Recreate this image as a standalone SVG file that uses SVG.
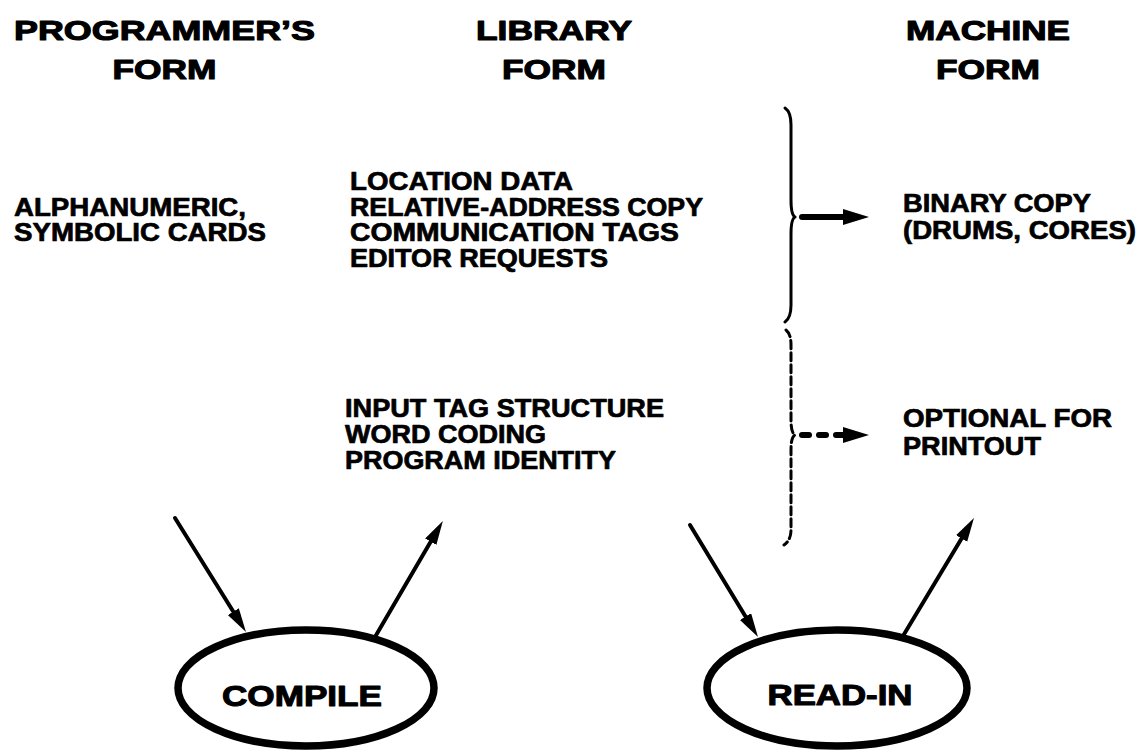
<svg xmlns="http://www.w3.org/2000/svg" width="1143" height="752" viewBox="0 0 1143 752">
  <style>
    text { font-family: "Liberation Sans", Arial, Helvetica, sans-serif; font-weight: bold; fill: #000; stroke: #000; stroke-linejoin: round; }
    .head { font-size: 28px; text-anchor: middle; stroke-width: 1.1; }
    .body { font-size: 25px; stroke-width: 0.7; }
    .oval-label { font-size: 30px; text-anchor: middle; stroke-width: 1.1; }
    .oval { fill: #fff; stroke: #000; stroke-width: 7.5; }
    .link { fill: none; stroke: #000; stroke-width: 4; stroke-linecap: round; }
    .brace { fill: none; stroke: #000; stroke-width: 3; stroke-linecap: round; stroke-linejoin: round; }
    .brace-dashed { stroke-dasharray: 8 4; }
    .shaft { stroke: #000; stroke-width: 6; stroke-linecap: round; }
  </style>
  <defs>
    <marker id="head" markerUnits="userSpaceOnUse" markerWidth="26" markerHeight="15" refX="14" refY="6.5" orient="auto">
      <path d="M0,0 L24,6.5 L0,13 Z" fill="#000"/>
    </marker>
  </defs>
  <rect width="1143" height="752" fill="#fff"/>

  <!-- column headings and their contents -->
  <g id="programmers-form">
    <text class="head" x="164.5" y="40" textLength="301" lengthAdjust="spacingAndGlyphs">PROGRAMMER’S</text>
    <text class="head" x="164.5" y="79" textLength="104" lengthAdjust="spacingAndGlyphs">FORM</text>
    <text class="body" x="14" y="216" textLength="232" lengthAdjust="spacingAndGlyphs">ALPHANUMERIC,</text>
    <text class="body" x="14" y="241" textLength="252" lengthAdjust="spacingAndGlyphs">SYMBOLIC CARDS</text>
  </g>

  <g id="library-form">
    <text class="head" x="554" y="40" textLength="156" lengthAdjust="spacingAndGlyphs">LIBRARY</text>
    <text class="head" x="554" y="79" textLength="104" lengthAdjust="spacingAndGlyphs">FORM</text>
    <text class="body" x="350" y="190" textLength="223" lengthAdjust="spacingAndGlyphs">LOCATION DATA</text>
    <text class="body" x="350" y="215.5" textLength="353" lengthAdjust="spacingAndGlyphs">RELATIVE-ADDRESS COPY</text>
    <text class="body" x="350" y="241" textLength="329" lengthAdjust="spacingAndGlyphs">COMMUNICATION TAGS</text>
    <text class="body" x="350" y="266.5" textLength="258" lengthAdjust="spacingAndGlyphs">EDITOR REQUESTS</text>
    <text class="body" x="345" y="417" textLength="319" lengthAdjust="spacingAndGlyphs">INPUT TAG STRUCTURE</text>
    <text class="body" x="345" y="443" textLength="201" lengthAdjust="spacingAndGlyphs">WORD CODING</text>
    <text class="body" x="345" y="469" textLength="271" lengthAdjust="spacingAndGlyphs">PROGRAM IDENTITY</text>
  </g>

  <g id="machine-form">
    <text class="head" x="988" y="40" textLength="164" lengthAdjust="spacingAndGlyphs">MACHINE</text>
    <text class="head" x="988" y="79" textLength="104" lengthAdjust="spacingAndGlyphs">FORM</text>
    <text class="body" x="903" y="212" textLength="188" lengthAdjust="spacingAndGlyphs">BINARY COPY</text>
    <text class="body" x="903" y="239" textLength="233" lengthAdjust="spacingAndGlyphs">(DRUMS, CORES)</text>
    <text class="body" x="903" y="427" textLength="209" lengthAdjust="spacingAndGlyphs">OPTIONAL FOR</text>
    <text class="body" x="903" y="455" textLength="138" lengthAdjust="spacingAndGlyphs">PRINTOUT</text>
  </g>

  <!-- process ovals -->
  <g id="compile">
    <ellipse class="oval" cx="306" cy="688" rx="128" ry="58"/>
    <text class="oval-label" x="302" y="706" textLength="160" lengthAdjust="spacingAndGlyphs">COMPILE</text>
  </g>
  <g id="read-in">
    <ellipse class="oval" cx="837" cy="688" rx="130" ry="58"/>
    <text class="oval-label" x="840" y="705" textLength="145" lengthAdjust="spacingAndGlyphs">READ-IN</text>
  </g>

  <!-- connectors -->
  <g id="connectors">
    <line class="link" x1="175" y1="518" x2="240.7" y2="623.5" marker-end="url(#head)"/>
    <line class="link" x1="375" y1="637" x2="437.8" y2="529.6" marker-end="url(#head)"/>
    <line class="link" x1="690" y1="525" x2="752.8" y2="628.5" marker-end="url(#head)"/>
    <line class="link" x1="903" y1="636" x2="968.8" y2="526.5" marker-end="url(#head)"/>

    <!-- brace grouping the library items passed on to the machine -->
    <path class="brace" d="M785,108 Q791,112 791,125 L791,200 Q791,215 795,217 Q791,219 791,234 L791,305 Q791,318 785,322"/>
    <path class="brace brace-dashed" d="M786,330 Q791,334 791,345 L791,420 Q791,433 795,435 Q791,437 791,450 L791,530 Q791,540 784,545"/>

    <!-- solid transfer arrow -->
    <line class="shaft" x1="802" y1="217" x2="848" y2="217"/>
    <path d="M843,209 L869,217 L843,225 Z" fill="#000"/>

    <!-- optional (dotted) transfer arrow -->
    <line class="shaft" x1="802" y1="435" x2="809" y2="435"/>
    <line class="shaft" x1="819" y1="435" x2="826" y2="435"/>
    <line class="shaft" x1="836" y1="435" x2="848" y2="435"/>
    <path d="M843,427 L869,435 L843,443 Z" fill="#000"/>
  </g>
</svg>
